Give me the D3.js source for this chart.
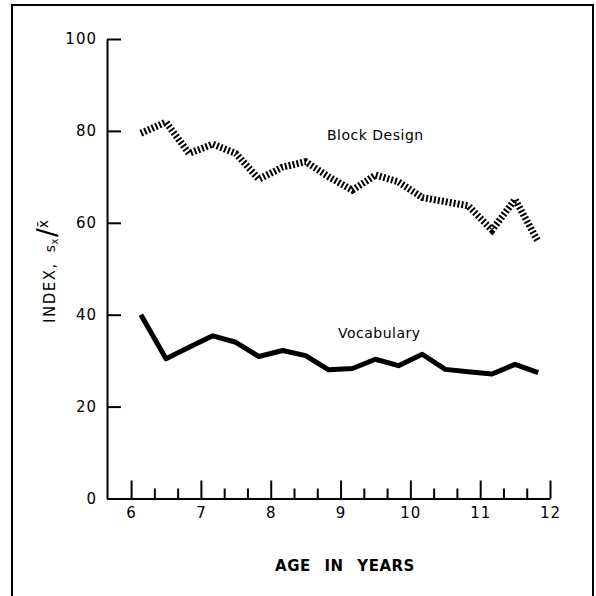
<!DOCTYPE html>
<html>
<head>
<meta charset="utf-8">
<script src="https://cdn.jsdelivr.net/npm/d3@7"></script>
<style>
  html, body { margin: 0; padding: 0; background: #fff; }
  svg { display: block; font-family: "DejaVu Sans", sans-serif; }
</style>
</head>
<body>
<div class="chart"></div>
<script>
// values (index s_x / mean, by age group)
const ages = [6.14, 6.5, 6.83, 7.17, 7.5, 7.83, 8.17, 8.5, 8.83, 9.17, 9.5, 9.83, 10.17, 10.5, 10.83, 11.17, 11.5, 11.83];
const blockDesign = [79.5, 81.9, 75.1, 77.1, 75.1, 69.5, 72.1, 73.3, 70.0, 67.1, 70.4, 68.9, 65.5, 64.6, 63.7, 58.4, 65.1, 55.9];
const vocabulary = [40, 30.4, 32.9, 35.4, 34.0, 30.9, 32.2, 31.1, 28.0, 28.3, 30.3, 28.9, 31.4, 28.1, 27.6, 27.1, 29.2, 27.4];
const xTicks = [6, 7, 8, 9, 10, 11, 12];
const yTicks = [0, 20, 40, 60, 80, 100];

const width = 596, height = 596;

const svg = d3.select(".chart").append("svg")
    .attr("width", width)
    .attr("height", height);

// outer frame (bottom edge runs off the page)
svg.append("rect")
    .attr("x", 12).attr("y", 5)
    .attr("width", 581).attr("height", 640)
    .attr("fill", "none")
    .attr("stroke", "#000")
    .attr("stroke-width", 2);

var xScale = d3.scaleLinear().domain([5.655, 12]).range([107, 550]),
    yScale = d3.scaleLinear().domain([0, 100]).range([498.5, 39]);

// minor ticks every 4 months
const minorTicks = d3.range(6, 12, 1 / 3).filter(v => Math.abs(v - Math.round(v)) > 0.01);

svg.append("g")
    .attr("class", "xMinor")
    .attr("transform", `translate(0,${yScale(0)})`)
    .call(d3.axisBottom(xScale).tickValues(minorTicks).tickSizeInner(-10).tickSizeOuter(0).tickFormat(""));

svg.append("g")
    .attr("class", "xAxis")
    .attr("transform", `translate(0,${yScale(0)})`)
    .call(d3.axisBottom(xScale).tickValues(xTicks).tickFormat(d3.format("d"))
        .tickSizeInner(-18).tickSizeOuter(0).tickPadding(9));

svg.append("g")
    .attr("class", "yAxis")
    .attr("transform", `translate(${xScale.range()[0]},0)`)
    .call(d3.axisLeft(yScale).tickValues(yTicks).tickFormat(d3.format("d"))
        .tickSizeInner(-14).tickSizeOuter(0).tickPadding(10));

svg.selectAll(".xAxis, .yAxis, .xMinor").selectAll("path, line")
    .attr("stroke", "#000")
    .attr("stroke-width", 2);
svg.select(".xMinor").select("path").remove();
svg.selectAll(".xAxis text, .yAxis text")
    .attr("fill", "#000")
    .attr("font-family", "DejaVu Sans, sans-serif")
    .attr("font-size", 15)
    .attr("letter-spacing", 1);

var line = d3.line()
    .x((d, i) => xScale(ages[i]))
    .y(d => yScale(d));

svg.append("path")
    .datum(blockDesign)
    .attr("fill", "none")
    .attr("stroke", "#000")
    .attr("stroke-width", 7)
    .attr("stroke-dasharray", "2,2")
    .attr("d", line);

svg.append("path")
    .datum(vocabulary)
    .attr("fill", "none")
    .attr("stroke", "#000")
    .attr("stroke-width", 5)
    .attr("stroke-linejoin", "round")
    .attr("d", line);

// series labels
svg.append("text")
    .attr("x", 327).attr("y", 140)
    .attr("font-size", 14)
    .attr("letter-spacing", 0.5)
    .text("Block Design");

svg.append("text")
    .attr("x", 338).attr("y", 338)
    .attr("font-size", 14)
    .attr("letter-spacing", 0.5)
    .text("Vocabulary");

// axis titles
svg.append("text")
    .attr("x", 345).attr("y", 571)
    .attr("text-anchor", "middle")
    .attr("font-size", 15)
    .attr("font-weight", "bold")
    .attr("word-spacing", 8)
    .attr("letter-spacing", 0.5)
    .text("AGE IN YEARS");

var yTitle = svg.append("text")
    .attr("transform", "translate(55,323) rotate(-90)")
    .attr("font-size", 15)
    .attr("letter-spacing", 1.5);
yTitle.append("tspan").text("INDEX,");
yTitle.append("tspan").attr("dx", 10).attr("font-size", 14).text("s");
yTitle.append("tspan").attr("dy", 3).attr("dx", -1).attr("font-size", 10).text("x");
yTitle.append("tspan").attr("dy", -2).attr("font-size", 26).attr("letter-spacing", 0).text("/");
yTitle.append("tspan").attr("dy", -8).attr("font-size", 14).text("x\u0304");
</script>
</body>
</html>
